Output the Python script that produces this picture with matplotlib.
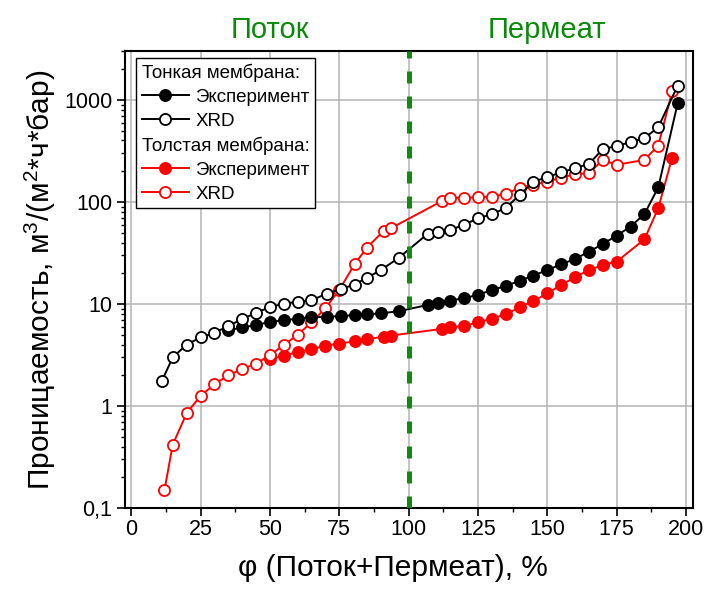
import matplotlib
matplotlib.use('Agg')
import matplotlib.pyplot as plt
from matplotlib.lines import Line2D
from matplotlib.ticker import MultipleLocator, FixedLocator, FuncFormatter, LogLocator, NullFormatter

plt.rcParams['font.family'] = ['Liberation Sans', 'DejaVu Sans']
plt.rcParams['mathtext.fontset'] = 'custom'
plt.rcParams['mathtext.rm'] = 'Liberation Sans'
plt.rcParams['mathtext.it'] = 'Liberation Sans:italic'

# === Data ===
thin_exp_x = [35, 40, 45, 50, 55, 60, 65, 70.5, 75.5, 80.5, 85, 90, 96.5,
              107, 110.5, 115, 120, 125, 130, 135, 140, 145, 150, 155, 160,
              165, 170, 175, 180, 185, 190, 197]
thin_exp_y = [5.5, 5.9, 6.2, 6.7, 6.9, 7.2, 7.4, 7.5, 7.6, 7.8, 7.9, 8.1, 8.5,
              9.8, 10.2, 10.8, 11.4, 12.3, 13.7, 15.0, 16.9, 19.0, 21.5, 24.5, 27.6,
              32.6, 38.7, 46.8, 57.3, 76, 139, 930]

thin_xrd_x = [11, 15, 20, 25, 30, 35, 40, 45, 50, 55, 60, 65, 70.5, 75.5, 80.5, 85, 90, 96.5,
              107, 110.5, 115, 120, 125, 130, 135, 140, 145, 150, 155, 160,
              165, 170, 175, 180, 185, 190, 197]
thin_xrd_y = [1.75, 3.0, 4.0, 4.7, 5.2, 6.1, 7.1, 8.2, 9.3, 10.1, 10.5, 10.9, 12.6, 14.0, 15.5, 18.1, 21.5, 28.4,
              49, 51, 53, 60, 69, 76, 87, 117, 158, 175, 195, 214,
              236, 329, 354, 385, 421, 540, 1380]

thick_exp_x = [50, 55, 60, 65, 70, 75, 80.5, 85, 91, 93.5,
               112, 115, 120, 125, 130, 135, 140, 145, 150, 155, 160, 165, 170, 175, 185, 190, 195]
thick_exp_y = [2.9, 3.1, 3.4, 3.6, 3.9, 4.1, 4.3, 4.5, 4.8, 4.9,
               5.7, 5.9, 6.1, 6.6, 7.2, 7.9, 9.3, 10.7, 12.7, 15.4, 18.3, 21.5, 24.1, 26.0, 43, 87, 272]

thick_xrd_x = [12, 15, 20, 25, 30, 35, 40, 45, 50, 55, 60, 65, 70, 75, 80.5, 85, 91, 93.5,
               112, 115, 120, 125, 130, 135, 140, 145, 150, 155, 160, 165, 170, 175, 185, 190, 195]
thick_xrd_y = [0.15, 0.42, 0.85, 1.26, 1.63, 2.0, 2.3, 2.6, 3.15, 3.95, 5.0, 6.6, 9.1, 13.7, 24.5, 35.7, 52, 55,
               102, 110, 110, 111, 113, 119, 138, 147, 158, 173, 187, 191, 258, 231, 258, 357, 1210]

x_ticks = [0, 25, 50, 75, 100, 125, 150, 175, 200]
y_ticks = [0.1, 1, 10, 100, 1000]
boundary_x = 100
region_labels = ['Поток', 'Пермеат']
region_x = [50, 150]

# === Figure ===
fig = plt.figure(figsize=(7.09, 5.95), dpi=100)
ax = fig.add_axes([0.176, 0.146, 0.801, 0.768])

ms = 8
mew = 1.3
lw = 1.4
ax.plot(thin_exp_x, thin_exp_y, '-o', color='black', ms=ms, mew=mew, lw=lw, zorder=4)
ax.plot(thin_xrd_x, thin_xrd_y, '-o', color='black', mfc='white', ms=ms, mew=mew, lw=lw, zorder=4)
ax.plot(thick_exp_x, thick_exp_y, '-o', color='red', ms=ms, mew=mew, lw=lw, zorder=3)
ax.plot(thick_xrd_x, thick_xrd_y, '-o', color='red', mfc='white', ms=ms, mew=mew, lw=lw, zorder=3)

ax.axvline(boundary_x, color='#118a11', lw=3.6, dashes=(2.4, 2.6), zorder=5)

ax.set_yscale('log')
ax.set_xlim(-2.3, 202.4)
ax.set_ylim(0.1, 3000)

ax.xaxis.set_major_locator(FixedLocator(x_ticks))
ax.xaxis.set_minor_locator(MultipleLocator(12.5))
ax.yaxis.set_major_locator(FixedLocator(y_ticks))
ax.yaxis.set_minor_locator(LogLocator(base=10, subs=range(2, 10)))
ax.yaxis.set_minor_formatter(NullFormatter())
ax.yaxis.set_major_formatter(FuncFormatter(lambda v, p: f'{v:g}'.replace('.', ',')))

ax.tick_params(axis='both', which='major', direction='out', length=6, width=1.2,
               labelsize=15.5, pad=3)
ax.tick_params(axis='x', which='major', pad=2)
ax.tick_params(axis='both', which='minor', direction='out', length=3, width=1)
ax.grid(True, which='major', color='#b4b4b4', lw=1.1)
ax.set_axisbelow(True)
for s in ax.spines.values():
    s.set_linewidth(1.5)

ax.set_xlabel('φ (Поток+Пермеат), %', fontsize=21.5, x=0.472, labelpad=10)
ax.set_ylabel('Проницаемость, м$^3$/(м$^2$*ч*бар)', fontsize=21.5, labelpad=4)

for lab, xv in zip(region_labels, region_x):
    ax.text(xv, 1.015, lab, transform=ax.get_xaxis_transform(), ha='center', va='bottom',
            fontsize=21, color='#0a8a0a')

# === Legend with group headers ===
blank = Line2D([], [], color='none')
handles = [
    blank,
    Line2D([], [], color='black', marker='o', ms=ms, mew=mew, lw=lw),
    Line2D([], [], color='black', marker='o', mfc='white', ms=ms, mew=mew, lw=lw),
    blank,
    Line2D([], [], color='red', marker='o', ms=ms, mew=mew, lw=lw),
    Line2D([], [], color='red', marker='o', mfc='white', ms=ms, mew=mew, lw=lw),
]
labels = ['Тонкая мембрана:', 'Эксперимент', 'XRD', 'Толстая мембрана:', 'Эксперимент', 'XRD']
leg = ax.legend(handles, labels, loc='upper left', bbox_to_anchor=(0.02, 0.985),
                fontsize=13.5, frameon=True, fancybox=False, edgecolor='black',
                framealpha=1, borderaxespad=0, labelspacing=0.36, handlelength=2.5,
                handletextpad=0.35, borderpad=0.3)
leg.get_frame().set_linewidth(1.0)
leg.set_zorder(6)
for vpack in leg._legend_handle_box.get_children():
    for hpack, lab in zip(vpack.get_children(), labels):
        if lab.endswith(':'):
            hpack.get_children()[0].set_width(0)
            hpack.sep = 0

fig.savefig('out.png', dpi=100)
